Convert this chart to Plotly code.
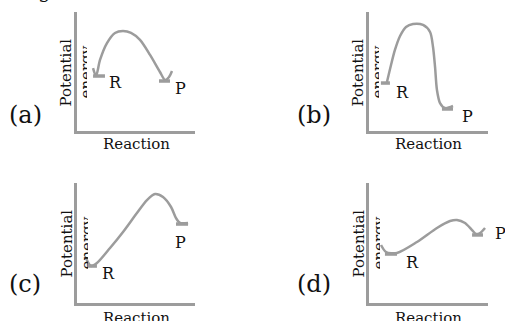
import plotly.graph_objects as go

W, H = 505, 321
GREY = "#9c9c9c"
FONT = "DejaVu Serif"

# energy profiles (reaction coord 0-10, energy 0-10)
a_x = [1.36, 1.61, 1.95, 2.54, 3.22, 3.90, 4.58, 5.34, 6.19, 7.03, 7.46, 7.80, 8.05]
a_y = [5.29, 4.62, 5.97, 7.39, 8.24, 8.40, 8.24, 7.65, 6.39, 4.96, 4.29, 4.54, 5.04]

b_x = [1.51, 1.85, 2.18, 2.61, 3.11, 3.70, 4.54, 5.13, 5.38, 5.55, 5.71, 5.97, 6.39, 7.06]
b_y = [4.12, 5.55, 6.81, 7.98, 8.74, 8.99, 8.91, 8.32, 7.06, 5.38, 3.45, 2.35, 1.93, 2.10]

c_x = [0.76, 1.19, 1.69, 2.80, 3.90, 5.08, 5.93, 6.61, 7.29, 7.97, 8.39, 8.73, 9.41]
c_y = [3.75, 3.08, 3.33, 4.58, 5.92, 7.50, 8.58, 9.08, 8.83, 8.00, 7.08, 6.67, 6.67]

d_x = [1.01, 1.43, 2.35, 4.03, 5.71, 6.81, 7.39, 8.07, 8.66, 8.99, 9.33, 9.75]
d_y = [4.83, 4.25, 4.17, 5.08, 6.25, 6.83, 6.92, 6.67, 6.08, 5.75, 5.83, 6.25]

# little level bars under R and P: (x_start, x_end, level)
r_bars = [(1.36, 2.37, 4.62), (1.00, 1.76, 4.03), (0.93, 1.69, 3.08), (1.34, 2.35, 4.08)]
p_bars = [(6.95, 7.88, 4.20), (6.13, 7.06, 1.85), (8.39, 9.41, 6.58), (8.66, 9.58, 5.67)]

panel_names = ["(a)", "(b)", "(c)", "(d)"]
curves = [(a_x, a_y), (b_x, b_y), (c_x, c_y), (d_x, d_y)]

# layout in pixels: axes box (left, right, top, bottom), text spots
boxes = [(77, 195, 12, 131), (369, 488, 12, 131), (77, 195, 183, 303), (369, 488, 183, 303)]
name_pos = [(25.5, 115), (314, 115), (25, 284), (314, 284)]
r_pos = [(115, 83), (402, 92), (108, 273), (412, 262)]
p_pos = [(180, 89), (467, 116), (180, 242), (500, 233)]
shift = [(0, 0), (292, 0), (0, 171), (292, 171)]
reaction_y = [144, 144, 317.5, 317.5]


def paper(x, y):
    return x / W, 1 - y / H


fig = go.Figure()
annotations = []

for i, ((cx, cy), (l, r, t, b)) in enumerate(zip(curves, boxes)):
    n = "" if i == 0 else str(i + 1)
    xa, ya = "x" + n, "y" + n
    fig.add_trace(go.Scatter(x=cx, y=cy, mode="lines", xaxis=xa, yaxis=ya,
                             line=dict(color=GREY, width=2.5, shape="spline", smoothing=0.8),
                             hoverinfo="skip", showlegend=False))
    for x0, x1, lvl in (r_bars[i], p_bars[i]):
        fig.add_trace(go.Scatter(x=[x0, x1], y=[lvl, lvl], mode="lines", xaxis=xa, yaxis=ya,
                                 line=dict(color=GREY, width=3.5),
                                 hoverinfo="skip", showlegend=False))

    ax = dict(showline=True, linecolor=GREY, linewidth=2.5, showgrid=False, zeroline=False,
              showticklabels=False, ticks="", range=[0, 10], fixedrange=True)
    fig.layout["xaxis" + n] = dict(ax, domain=[l / W, r / W], anchor=ya)
    fig.layout["yaxis" + n] = dict(ax, domain=[1 - b / H, 1 - t / H], anchor=xa)

    txt = dict(showarrow=False, xanchor="center", yanchor="middle", xref="paper", yref="paper")
    dx, dy = shift[i]
    spots = [
        (panel_names[i], name_pos[i], 0, 24),
        ("R", r_pos[i], 0, 16),
        ("P", p_pos[i], 0, 16),
        ("Potential", (66 + dx, 72.5 + dy), -90, 15),
        ("energy", (86 + dx, 72.5 + dy), -90, 15),
        ("Reaction", (136 + dx, reaction_y[i]), 0, 15),
    ]
    for label, pos, ang, size in spots:
        xp, yp = paper(*pos)
        annotations.append(dict(txt, text=label, x=xp, y=yp, textangle=ang,
                                font=dict(family=FONT, size=size, color="#111")))

# bits of text cut off by the top edge
for ch, x in [("g", 44), ("2", 470)]:
    annotations.append(dict(text=ch, xref="paper", yref="paper", x=x / W, y=1,
                            xanchor="center", yanchor="bottom", yshift=-5, showarrow=False,
                            font=dict(family=FONT, size=20, color="#111")))

fig.update_layout(width=W, height=H, margin=dict(l=0, r=0, t=0, b=0),
                  plot_bgcolor="white", paper_bgcolor="white", annotations=annotations)

# the second line "energy" is cut in half in the original sketch: clip it
clip_js = """
document.body.style.margin = '0';
var ns = 'http://www.w3.org/2000/svg';
document.querySelectorAll('g.annotation').forEach(function (g, k) {
  if (g.textContent !== 'energy') return;
  var bb = g.getBBox();
  var svg = g.ownerSVGElement;
  var defs = svg.querySelector('defs');
  if (!defs) { defs = document.createElementNS(ns, 'defs'); svg.insertBefore(defs, svg.firstChild); }
  var cp = document.createElementNS(ns, 'clipPath');
  cp.setAttribute('id', 'energy-clip-' + k);
  var rect = document.createElementNS(ns, 'rect');
  rect.setAttribute('x', bb.x - 2);
  rect.setAttribute('y', bb.y - 2);
  rect.setAttribute('width', bb.width * 0.5 + 3.5);
  rect.setAttribute('height', bb.height + 4);
  cp.appendChild(rect);
  defs.appendChild(cp);
  g.setAttribute('clip-path', 'url(#energy-clip-' + k + ')');
});
"""

fig.write_html("out.html", config={"displayModeBar": False}, post_script=clip_js)
